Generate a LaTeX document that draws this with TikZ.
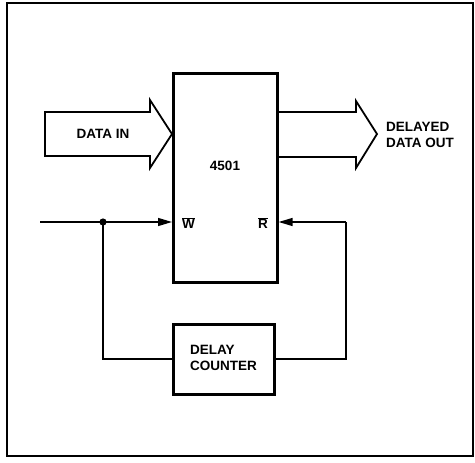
\documentclass[tikz,border=0pt]{standalone}
\usepackage{fontspec}
\setmainfont{Liberation Sans}
\usetikzlibrary{arrows.meta}
\begin{document}
\begin{tikzpicture}[x=1pt,y=-1pt,
  lbl/.style={font=\fontsize{13.5}{16.5}\selectfont\bfseries, align=left, inner sep=0pt},
  blk/.style={draw, line width=2.6pt, inner sep=0pt},
  bus/.style={draw, line width=1.8pt, line join=miter},
  wire/.style={line width=1.3pt},
  tip/.style={-{Triangle[length=14pt,width=8pt]}}
]
\useasboundingbox (0,0) rectangle (475,463);
\draw[line width=1.6pt] (7,3) rectangle (473,456);
% data in bus arrow
\draw[bus] (45,112) -- (150,112) -- (150,100) -- (172,134) -- (150,168) -- (150,156) -- (45,156) -- cycle;
% data out bus arrow
\draw[bus] (277,112) -- (356,112) -- (356,101) -- (377,134) -- (356,168) -- (356,157) -- (277,157);
% main block
\node[blk, minimum width=104pt, minimum height=209pt, anchor=north west] (mem) at (172,72) {};
\node[lbl] (num) at (225,166) {4501};
\node[lbl] (din) at (103,134) {DATA IN};
\node[lbl, anchor=west] (dout) at (386,135) {DELAYED\\DATA OUT};
% delay counter
\node[blk, minimum width=101pt, minimum height=70pt, anchor=north west] (cnt) at (172,323) {};
\node[lbl, anchor=west] (cntl) at (190,358) {DELAY\\COUNTER};
% control lines
\coordinate (win) at (40,222);
\coordinate (dot) at (103,222);
\coordinate (rr) at (346,222);
\node[lbl, anchor=west] (wl) at (182,223) {$\overline{\hbox{W}}$};
\node[lbl, anchor=east] (rl) at (268,223) {$\overline{\hbox{R}}$};
\draw[wire] (win) -- (dot);
\draw[wire, tip] (dot) -- (mem.west |- dot);
\fill (dot) circle (3.6pt);
\draw[wire] (dot) |- (cnt.west |- 0,359);
\draw[wire] (cnt.east |- 0,359) -| (rr);
\draw[wire, tip] (rr) -- (mem.east |- rr);
\end{tikzpicture}
\end{document}
